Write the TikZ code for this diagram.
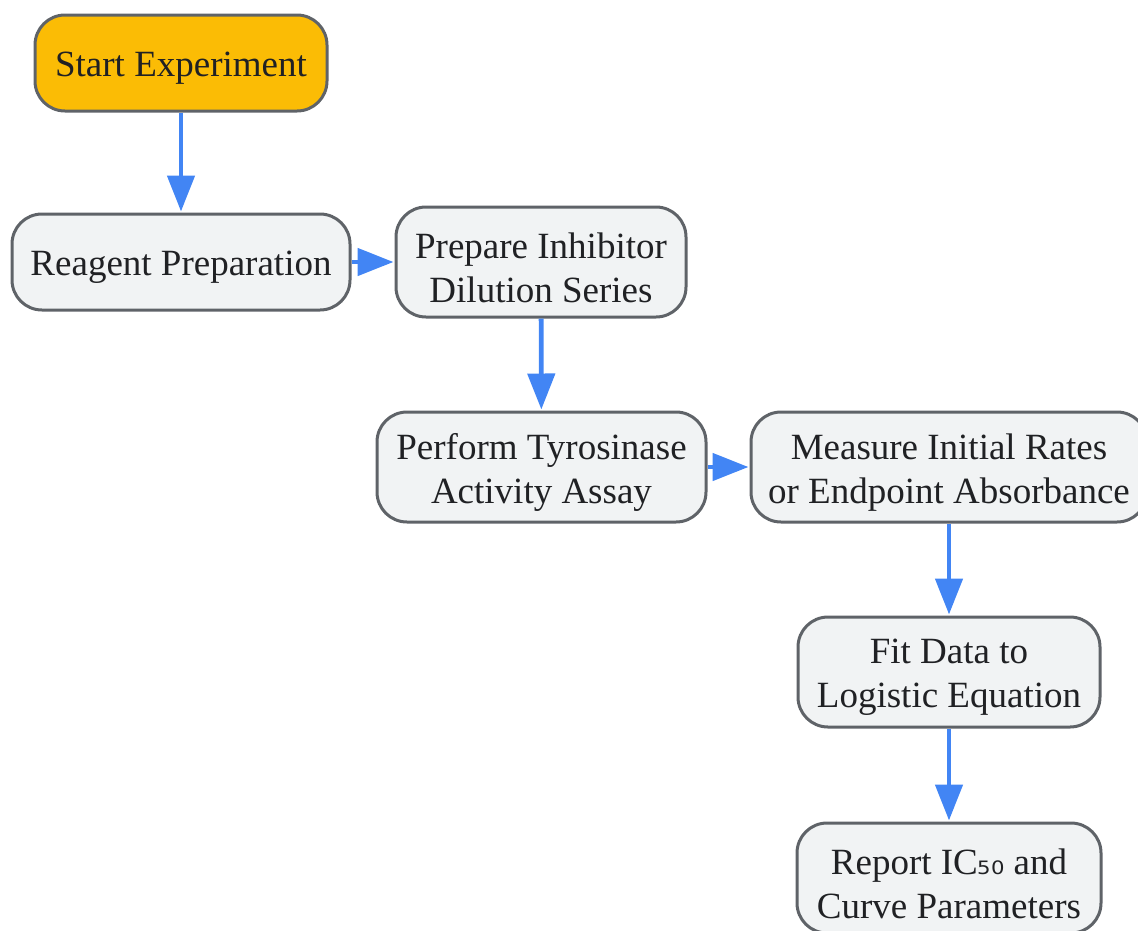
\documentclass[tikz,border=0pt]{standalone}
\usepackage{fontspec}
\setmainfont{Liberation Serif}
\newfontfamily\subfont{DejaVu Sans}
\usetikzlibrary{arrows.meta}
\definecolor{boxfill}{HTML}{F1F3F4}
\definecolor{boxline}{HTML}{5F6368}
\definecolor{startfill}{HTML}{FBBC05}
\definecolor{arrowblue}{HTML}{4285F4}
\definecolor{txt}{HTML}{202124}
\newcommand{\lowline}[1]{\raisebox{-5.5pt}[\height][\depth]{#1}}
\tikzset{
  flowbox/.style={draw=boxline, line width=3pt, fill=boxfill, rounded corners=30pt,
    inner sep=0pt, align=center, text=txt, font=\fontsize{37}{44}\selectfont},
  flowarrow/.style={draw=arrowblue, line width=4.8pt,
    -{Triangle[length=36pt,width=27pt]}, shorten >=1pt}
}
\begin{document}
\begin{tikzpicture}[x=1pt,y=-1pt]
\useasboundingbox (0,0) rectangle (1138,930);
\clip (0,0) rectangle (1138,930);
\node[flowbox, fill=startfill, minimum width=292pt, minimum height=96pt] (start) at (181,63) {\lowline{Start Experiment}};
\node[flowbox, minimum width=338pt, minimum height=96pt] (reag) at (181,262) {\lowline{Reagent Preparation}};
\node[flowbox, minimum width=290pt, minimum height=110pt] (prep) at (541,262) {\lowline{Prepare Inhibitor}\\\lowline{Dilution Series}};
\node[flowbox, minimum width=329pt, minimum height=110pt] (assay) at (541.5,467) {\lowline{Perform Tyrosinase}\\\lowline{Activity Assay}};
\node[flowbox, minimum width=396pt, minimum height=110pt] (meas) at (949,467) {\lowline{Measure Initial Rates}\\\lowline{or Endpoint Absorbance}};
\node[flowbox, minimum width=302pt, minimum height=110pt] (fit) at (949,672) {\lowline{Fit Data to}\\\lowline{Logistic Equation}};
\node[flowbox, minimum width=304pt, minimum height=110pt] (rep) at (949,878) {\lowline{Report IC{\subfont\fontsize{33}{44}\selectfont ₅₀} and}\\\lowline{Curve Parameters}};
\draw[flowarrow] (start) -- (reag);
\draw[flowarrow] (reag) -- (prep);
\draw[flowarrow] (prep) -- (assay);
\draw[flowarrow] (assay) -- (meas);
\draw[flowarrow] (meas) -- (fit);
\draw[flowarrow] (fit) -- (rep);
\end{tikzpicture}
\end{document}
